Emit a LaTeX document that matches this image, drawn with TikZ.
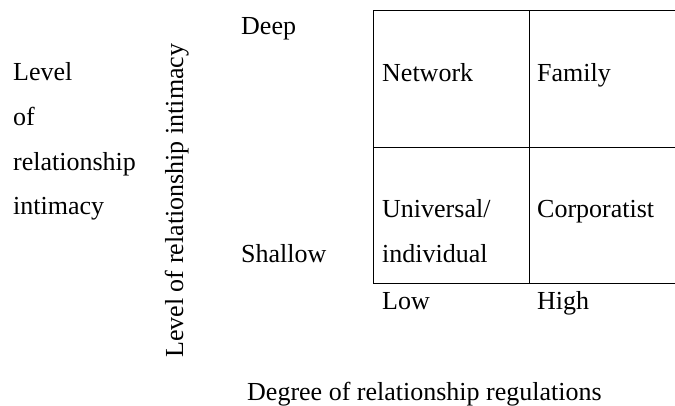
\documentclass[tikz,border=0pt]{standalone}
\usepackage{fontspec}
\setmainfont{Liberation Serif}
\begin{document}
\begin{tikzpicture}[x=1pt,y=-1pt,
  lbl/.style={anchor=base west,inner sep=0pt,font=\fontsize{26}{31}\selectfont}]
\useasboundingbox (0,0) rectangle (675,405);
% the grid
\draw[line width=0.9pt] (675,10) -- (373,10) -- (373,283.5) -- (675,283.5)
      (373,147) -- (675,147) (529,10) -- (529,283.5);
\path node (lev1) at (13,80) [lbl] {Level}
      node (lev2) at (13,125) [lbl] {of}
      node (lev3) at (13,170) [lbl] {relationship}
      node (lev4) at (13,214) [lbl] {intimacy}
      node (axisy) at (183,358) [lbl,rotate=90] {Level of relationship intimacy}
      node (deep) at (241,34) [lbl] {Deep}
      node (shallow) at (241,262) [lbl] {Shallow}
      node (network) at (382,81) [lbl] {Network}
      node (family) at (537,81) [lbl] {Family}
      node (univ) at (382,217) [lbl] {Universal/}
      node (indiv) at (382,262) [lbl] {individual}
      node (corp) at (537,217) [lbl] {Corporatist}
      node (low) at (382,309) [lbl] {Low}
      node (high) at (537,309) [lbl] {High}
      node (axisx) at (247,400) [lbl] {Degree of relationship regulations}
;
\end{tikzpicture}
\end{document}
